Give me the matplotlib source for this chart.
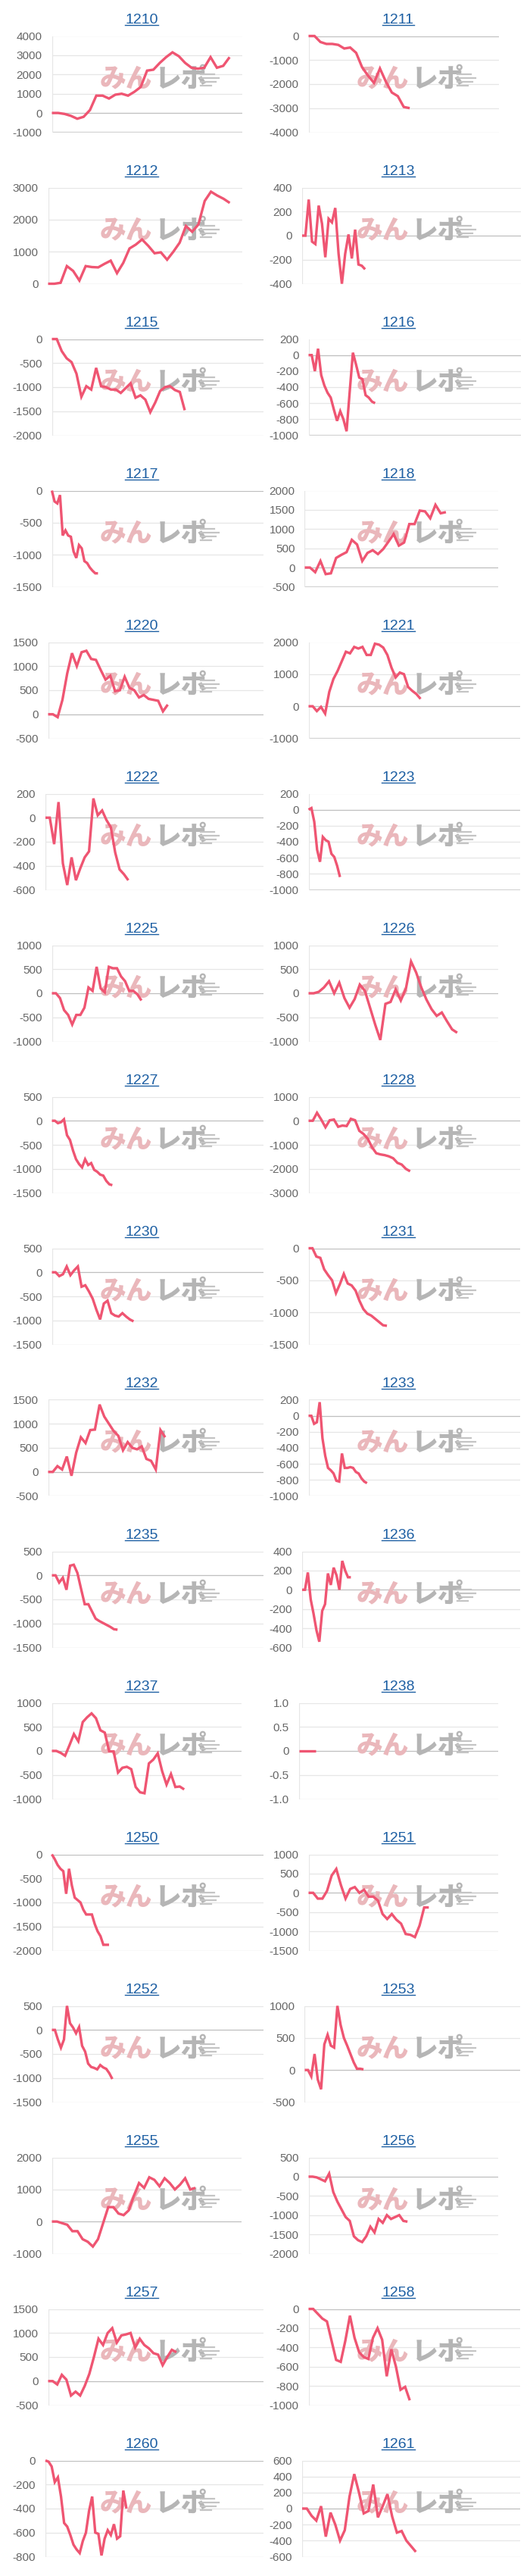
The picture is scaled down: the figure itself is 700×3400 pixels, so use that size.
import numpy as np
import matplotlib
matplotlib.use('Agg')
import matplotlib.pyplot as plt
from matplotlib.font_manager import FontProperties
from matplotlib.lines import Line2D

# ---------------- data ----------------
titles = ['1210', '1211', '1212', '1213', '1215', '1216', '1217', '1218',
          '1220', '1221', '1222', '1223', '1225', '1226', '1227', '1228',
          '1230', '1231', '1232', '1233', '1235', '1236', '1237', '1238',
          '1250', '1251', '1252', '1253', '1255', '1256', '1257', '1258',
          '1260', '1261']

v1210 = [0, 0, -50, -150, -300, -200, 150, 900, 900, 750, 950, 1000, 900, 1100, 1350,
         2200, 2250, 2600, 2900, 3150, 2950, 2600, 2350, 2300, 2350, 2900, 2350, 2450, 2900]
v1211 = [0, 0, -250, -330, -330, -370, -520, -480, -700, -1300, -1650, -1950, -1350,
         -1900, -2350, -2500, -2950, -3000]
v1212 = [0, 0, 30, 550, 400, 100, 550, 520, 510, 620, 720, 330, 650, 1100, 1220, 1380,
         1180, 950, 980, 750, 1000, 1280, 1800, 1620, 1850, 2580, 2870, 2750, 2650, 2520]
v1213 = [0, 0, 300, -50, -70, 250, 100, -180, 140, 110, 230, -150, -400, -150, 10,
         -190, 50, -240, -250, -280]
v1215 = [0, 0, -250, -400, -480, -720, -1200, -980, -1050, -600, -980, -1000, -1050,
         -1050, -1120, -1020, -920, -1220, -1170, -1260, -1520, -1320, -1080, -1000,
         -980, -1060, -1100, -1480]
v1216 = [0, 0, -200, 80, -250, -380, -470, -530, -680, -820, -700, -800, -950, -450,
         30, -120, -280, -300, -500, -530, -580, -600]
v1217 = [0, -170, -200, -70, -700, -620, -700, -720, -950, -1050, -850, -900, -1100,
         -1130, -1200, -1250, -1290, -1290]
v1218 = [0, 0, -120, 170, -170, -150, 250, 330, 400, 720, 600, 170, 380, 450, 350, 480,
         670, 870, 570, 650, 1130, 1130, 1480, 1460, 1280, 1630, 1410, 1440]
v1220 = [0, 0, -60, 300, 850, 1270, 1000, 1290, 1320, 1150, 1130, 920, 720, 800, 480,
         500, 780, 550, 500, 350, 400, 320, 300, 280, 60, 200]
v1221 = [0, 0, -150, -20, -230, 450, 850, 1100, 1400, 1700, 1650, 1850, 1800, 1850,
         1600, 1600, 1950, 1920, 1830, 1600, 1200, 900, 1050, 1000, 600, 480, 380, 230]
v1222 = [0, 0, -220, 130, -380, -560, -330, -520, -420, -330, -280, 160, 20, 60, -20,
         -80, -290, -430, -470, -520]
v1223 = [0, 20, -150, -500, -650, -340, -380, -400, -550, -590, -700, -840]
v1225 = [0, 0, -100, -350, -450, -650, -450, -450, -300, 120, 50, 550, 100, 20, 550,
         520, 520, 350, 250, 50, 50, -20, -150]
v1226 = [0, 0, 30, 120, 250, 0, 220, -100, -300, -120, 180, 50, -300, -650, -970, -220,
         -180, 80, -150, 100, 660, 430, 120, -130, -330, -470, -400, -580, -750, -820]
v1227 = [0, 0, -50, -30, 30, -300, -400, -620, -800, -900, -970, -800, -920, -880,
         -1020, -1060, -1120, -1140, -1250, -1320, -1340]
v1228 = [0, 0, 330, 50, -270, 20, 50, -250, -200, -220, 80, 20, -420, -550, -750,
         -1100, -1350, -1400, -1430, -1480, -1560, -1750, -1820, -2000, -2100]
v1230 = [0, 0, -80, -40, 120, -60, 40, 120, -300, -270, -400, -550, -780, -980, -650,
         -590, -850, -900, -920, -850, -920, -980, -1020]
v1231 = [0, 0, -130, -150, -330, -420, -500, -700, -560, -400, -550, -580, -660, -820,
         -950, -1020, -1050, -1100, -1150, -1200, -1210]
v1232 = [0, 0, 120, 50, 320, -80, 400, 720, 600, 870, 880, 1400, 1150, 1000, 850, 750,
         450, 620, 500, 470, 530, 270, 230, 50, 870, 720]
v1233 = [0, 0, -100, -80, 170, -280, -500, -650, -680, -720, -810, -820, -470, -650,
         -650, -640, -650, -700, -720, -780, -820, -840]
v1235 = [0, 0, -150, -50, -300, 200, 220, 50, -280, -600, -600, -750, -900, -950, -990,
         -1030, -1070, -1120, -1130]
v1236 = [0, 0, 180, -100, -250, -420, -540, -220, -150, 170, 50, 230, 150, 0, 300, 200,
         130, 130]
v1237 = [0, 0, -40, -100, 120, 350, 200, 600, 700, 780, 680, 430, 380, -10, -10, -450,
         -350, -330, -380, -750, -860, -880, -260, -180, -50, -420, -700, -480, -750,
         -740, -800]
v1238 = [0, 0, 0, 0, 0]
v1250 = [0, -100, -220, -300, -350, -820, -300, -650, -900, -950, -1000, -1150, -1250,
         -1250, -1250, -1450, -1600, -1700, -1880, -1880, -1880]
v1251 = [0, 0, -150, -150, 50, 450, 620, 200, -150, 100, 150, 0, 80, -100, -100, -200,
         -550, -680, -550, -700, -800, -1070, -1090, -1150, -850, -380, -380]
v1252 = [0, 0, -200, -370, -200, 500, 140, 50, -70, 60, -330, -450, -700, -770, -790,
         -820, -730, -780, -810, -900, -1020]
v1253 = [0, 0, -100, 250, -150, -300, 400, 550, 380, 350, 1000, 700, 500, 380, 250,
         120, 20, 20, 10]
v1255 = [0, 0, -50, -100, -300, -300, -550, -630, -780, -550, -50, 450, 450, 250, 200,
         350, 800, 1200, 1050, 1380, 1300, 1100, 1350, 1200, 1000, 1150, 1350, 1000, 1050]
v1256 = [0, 0, -20, -70, -120, 80, -400, -650, -850, -1050, -1150, -1550, -1650, -1700,
         -1550, -1300, -1450, -1100, -1200, -1000, -1100, -1050, -1000, -1150, -1170]
v1257 = [0, 0, -70, 130, 30, -300, -220, -300, -100, 150, 500, 880, 750, 1000, 1100,
         800, 950, 970, 1000, 700, 880, 750, 680, 580, 550, 330, 500, 650, 600]
v1258 = [0, 0, -50, -100, -130, -330, -530, -550, -330, -70, -300, -450, -500, -520,
         -300, -200, -320, -700, -420, -600, -840, -810, -950]
v1260 = [0, -10, -50, -180, -140, -300, -520, -550, -620, -700, -740, -770, -670, -600,
         -420, -300, -600, -610, -790, -650, -580, -620, -530, -650, -630, -250, -400]
v1261 = [0, 0, -90, -150, 30, -350, -50, -200, -400, -270, 150, 430, 200, -60, -30,
         300, -110, 30, 180, -100, -300, -280, -400, -470, -540]

series = [v1210, v1211, v1212, v1213, v1215, v1216, v1217, v1218, v1220, v1221,
          v1222, v1223, v1225, v1226, v1227, v1228, v1230, v1231, v1232, v1233,
          v1235, v1236, v1237, v1238, v1250, v1251, v1252, v1253, v1255, v1256,
          v1257, v1258, v1260, v1261]

# y axis tick ranges (min, max, step)
y_ticks = [(-1000, 4000, 1000), (-4000, 0, 1000), (0, 3000, 1000), (-400, 400, 200),
           (-2000, 0, 500), (-1000, 200, 200), (-1500, 0, 500), (-500, 2000, 500),
           (-500, 1500, 500), (-1000, 2000, 1000), (-600, 200, 200), (-1000, 200, 200),
           (-1000, 1000, 500), (-1000, 1000, 500), (-1500, 500, 500), (-3000, 1000, 1000),
           (-1500, 500, 500), (-1500, 0, 500), (-500, 1500, 500), (-1000, 200, 200),
           (-1500, 500, 500), (-600, 400, 200), (-1000, 1000, 500), (-1.0, 1.0, 0.5),
           (-2000, 0, 500), (-1500, 1000, 500), (-1500, 500, 500), (-500, 1000, 500),
           (-1000, 2000, 1000), (-2000, 500, 500), (-500, 1500, 500), (-1000, 0, 200),
           (-800, 0, 200), (-600, 600, 200)]

# ---------------- layout ----------------
x_slots = [31, 33, 32, 67, 44, 68, 79, 38, 46, 52, 51, 75, 53, 38, 71, 51, 58, 55,
           47, 77, 59, 77, 44, 48, 75, 42, 71, 67, 38, 47, 48, 47, 71, 47]
right_px = [320, 659, 320, 688, 348, 688, 348, 658, 348, 687, 348, 687, 348, 658,
            348, 687, 348, 687, 348, 687, 348, 687, 319, 658, 348, 658, 348, 687,
            319, 658, 348, 687, 348, 687]

W, H = 700, 3400
LINE = '#ef5572'
GRID = '#e6e6e6'
ZERO = '#bfbfbf'
BOTTOM = '#d2d2d2'
TICKC = '#666666'
TITLEC = '#1d5fa3'
CJK = ['Noto Sans CJK JP', 'DejaVu Sans']

fig = plt.figure(figsize=(W / 100, H / 100), dpi=100)
fig.patch.set_facecolor('white')
renderer = fig.canvas.get_renderer()
tick_fp = FontProperties(family='Liberation Sans', size=11)
title_fp = FontProperties(family='Liberation Sans', size=14)


def fmt(v, step):
    if step < 1:
        return '0' if abs(v) < 1e-9 else f'{v:.1f}'
    return str(int(round(v)))


def fy(py):
    return 1 - py / H


for i, (title, vals, (ymin, ymax, step)) in enumerate(zip(titles, series, y_ticks)):
    r, c = divmod(i, 2)
    x0 = 16.5 if c == 0 else 355.5
    ticks = np.arange(ymin, ymax + step / 2, step)
    labels = [fmt(t, step) for t in ticks]
    maxw = max(renderer.get_text_width_height_descent(l, tick_fp, ismath=False)[0]
               for l in labels)
    left = x0 + maxw + 13
    right = right_px[i]
    top = 200 * r + 47.5
    bottom = 200 * r + 174.5
    ax = fig.add_axes([left / W, fy(bottom), (right - left) / W, (bottom - top) / H])
    ax.set_facecolor('none')
    for s in ax.spines.values():
        s.set_visible(False)
    ax.set_xlim(0, x_slots[i] - 1)
    ax.set_ylim(ymin, ymax)
    ax.set_xticks([])
    ax.set_yticks(ticks)
    ax.set_yticklabels(labels)
    ax.tick_params(axis='y', length=0, pad=13 * 0.72, labelsize=11, labelcolor=TICKC)
    for lab in ax.get_yticklabels():
        lab.set_fontfamily('Liberation Sans')
    for t in ticks:
        if abs(t) < 1e-9:
            col = ZERO
        elif t == ticks[0]:
            col = BOTTOM
        else:
            col = GRID
        ax.axhline(t, color=col, lw=0.9, zorder=1)
    ax.axvline(0, color=GRID, lw=0.9, zorder=1)

    # watermark logo text
    wx = x0 + 186
    wy = 200 * r + 104
    ax.text((wx - 1) / W, fy(wy), 'みん', transform=fig.transFigure, ha='right',
            va='center', fontsize=25, fontweight='black', color='#eab7bb',
            family=CJK, zorder=2)
    ax.text((wx + 2) / W, fy(wy), 'レポ', transform=fig.transFigure, ha='left',
            va='center', fontsize=25, fontweight='black', color='#b5b5b5',
            family=CJK, zorder=2)
    # speed lines of the logo
    for k, (dy, ln) in enumerate([(-6, 18), (-1, 24), (4, 20), (9, 14)]):
        xs = wx + 62
        fig.add_artist(Line2D([xs / W, (xs + ln) / W], [fy(wy + dy), fy(wy + dy)],
                              color='#c4c4c4', lw=1.6, transform=fig.transFigure,
                              zorder=0.5))

    ax.plot(np.arange(len(vals)), vals, color=LINE, lw=2.4, solid_joinstyle='miter',
            solid_capstyle='butt', clip_on=False, zorder=4)

    # title with underline
    cx = x0 + 170.5
    base = 200 * r + 31
    fig.text(cx / W, fy(base), title, ha='center', va='baseline', color=TITLEC,
             fontproperties=title_fp)
    tw = renderer.get_text_width_height_descent(title, title_fp, ismath=False)[0]
    fig.add_artist(Line2D([(cx - tw / 2) / W, (cx + tw / 2) / W],
                          [fy(base + 2), fy(base + 2)], color=TITLEC, lw=1.0,
                          transform=fig.transFigure))

fig.savefig('out.png', dpi=100, facecolor='white')
